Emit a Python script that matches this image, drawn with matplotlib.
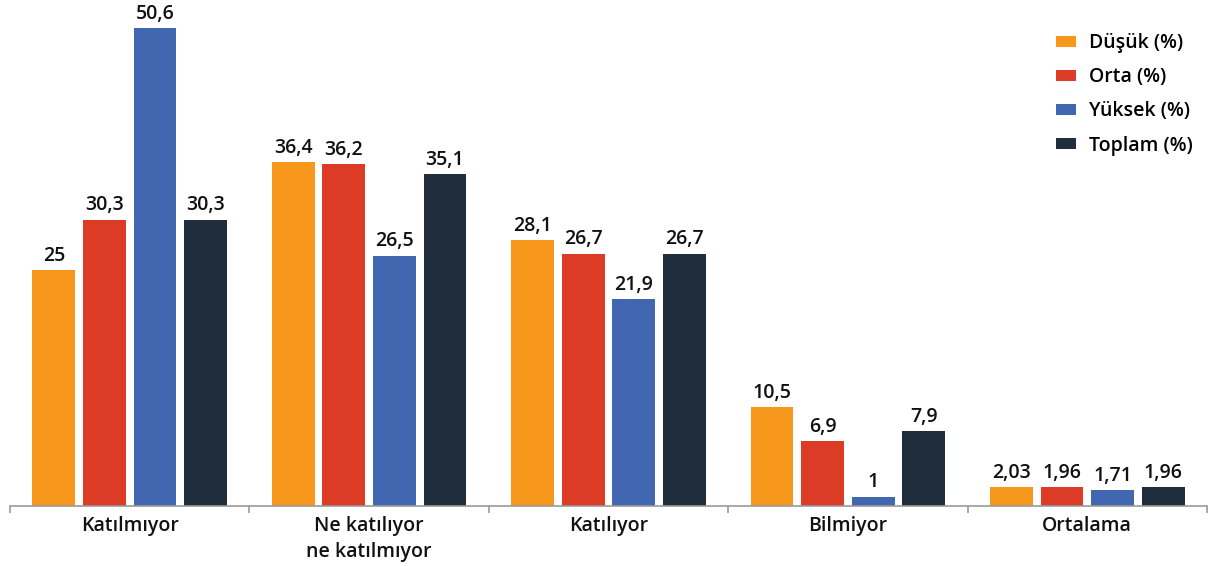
import matplotlib
matplotlib.use("Agg")
import matplotlib.pyplot as plt
import numpy as np

categories = ["Katılmıyor", "Ne katılıyor\nne katılmıyor", "Katılıyor", "Bilmiyor", "Ortalama"]
series_names = ["Düşük (%)", "Orta (%)", "Yüksek (%)", "Toplam (%)"]
dusuk = [25, 36.4, 28.1, 10.5, 2.03]
orta = [30.3, 36.2, 26.7, 6.9, 1.96]
yuksek = [50.6, 26.5, 21.9, 1, 1.71]
toplam = [30.3, 35.1, 26.7, 7.9, 1.96]
colors = ["#F7981D", "#DC3C26", "#4067B0", "#1F2D3D"]

plt.rcParams['font.family'] = ['Open Sans', 'DejaVu Sans']
plt.rcParams['font.weight'] = 'semibold'

fig = plt.figure(figsize=(12.1, 5.66), dpi=100)
ax = fig.add_axes([10/1210, 60/566, 1197/1210, 501/566])

x = np.arange(len(categories))
bw = 43/240
step = 50.7/240
all_series = [dusuk, orta, yuksek, toplam]
for i, (vals, c, name) in enumerate(zip(all_series, colors, series_names)):
    pos = x + (i - 1.5) * step
    bars = ax.bar(pos, vals, width=bw, color=c, label=name, zorder=2)
    for b, v in zip(bars, vals):
        ax.annotate(f"{v:g}".replace('.', ','), (b.get_x() + b.get_width()/2, v),
                    xytext=(0, 3), textcoords="offset points", ha="center", va="bottom",
                    fontsize=14, color="#111111", fontweight="semibold")

ax.set_xlim(-0.5, len(categories) - 0.5)
ax.set_ylim(0, 53)
ax.set_yticks([])
for s in ["top", "right", "left"]:
    ax.spines[s].set_visible(False)
ax.spines["bottom"].set_color("#999999")
ax.spines["bottom"].set_linewidth(1.2)
ax.set_xticks(x)
ax.set_xticklabels(categories, fontsize=14, color="#111111", linespacing=1.4, fontweight="semibold")
ax.tick_params(axis="x", which="major", length=0, pad=7)
ax.set_xticks(np.arange(-0.5, len(categories)), minor=True)
ax.tick_params(axis="x", which="minor", length=5, color="#999999", width=1.2)

leg = ax.legend(loc="upper right", bbox_to_anchor=(1.003, 0.979), frameon=False,
                prop={"size": 14, "weight": "semibold"},
                handlelength=1.0, handleheight=0.5, handletextpad=0.7, labelspacing=0.73)

fig.savefig("out.png", dpi=100)
